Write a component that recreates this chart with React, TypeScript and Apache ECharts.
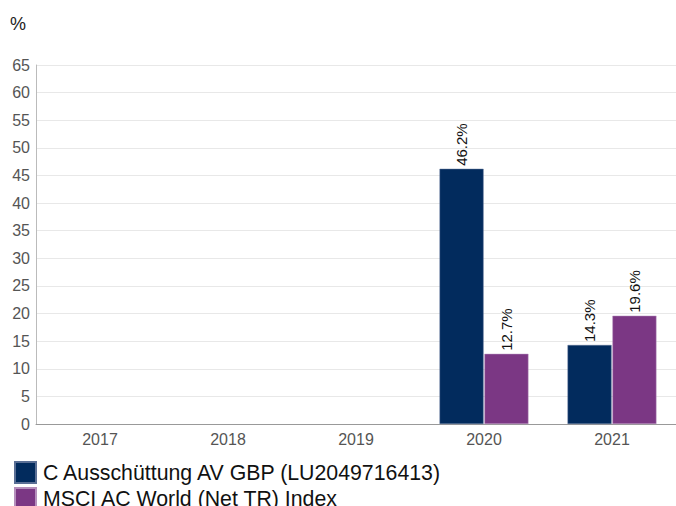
import React, { useEffect, useRef } from "react";
import * as echarts from "echarts";

const categories = ["2017", "2018", "2019", "2020", "2021"];
const fundName = "C Ausschüttung AV GBP (LU2049716413)";
const indexName = "MSCI AC World (Net TR) Index";
const fundValues: (number | null)[] = [null, null, null, 46.2, 14.3];
const indexValues: (number | null)[] = [null, null, null, 12.7, 19.6];

export default function App() {
  const ref = useRef<HTMLDivElement>(null);
  useEffect(() => {
    const chart = echarts.init(ref.current!, null, { renderer: "svg" });
    const font = "Liberation Sans, Arial, sans-serif";
    const label = {
      show: true,
      position: "top" as const,
      rotate: 90,
      align: "left" as const,
      verticalAlign: "middle" as const,
      distance: 3,
      fontSize: 15,
      color: "#111",
      fontFamily: font,
      formatter: (p: any) => p.value.toFixed(1) + "%",
    };
    const legendBase = {
      orient: "horizontal" as const,
      left: 9,
      itemWidth: 21,
      itemHeight: 21,
      icon: "rect",
      textStyle: { fontSize: 21.3, color: "#111", fontFamily: font, padding: [0, 0, 0, 2] },
    };
    chart.setOption({
      animation: false,
      textStyle: { fontFamily: font },
      title: {
        text: "%",
        left: 5,
        top: 10,
        textStyle: { fontSize: 18, fontWeight: "normal", color: "#222", fontFamily: font },
      },
      grid: { left: 36, right: -3, top: 65, bottom: 82, containLabel: false },
      legend: [
        { ...legendBase, top: 456, data: [fundName] },
        { ...legendBase, top: 482, data: [indexName] },
      ],
      xAxis: {
        type: "category",
        data: categories,
        axisLine: { lineStyle: { color: "#999" } },
        axisTick: { show: false },
        axisLabel: { fontSize: 16, color: "#555", margin: 7 },
      },
      yAxis: {
        type: "value",
        min: 0,
        max: 65,
        interval: 5,
        axisLine: { show: true, lineStyle: { color: "#bbb" } },
        axisTick: { show: false },
        axisLabel: { fontSize: 16, color: "#555", margin: 6 },
        splitLine: { lineStyle: { color: "#e8e8e8" } },
      },
      series: [
        {
          name: fundName,
          type: "bar",
          data: fundValues,
          barWidth: 44,
          barGap: "2%",
          itemStyle: { color: "#022b5d", borderColor: "#5a6f95", borderWidth: 0.5 },
          label,
        },
        {
          name: indexName,
          type: "bar",
          data: indexValues,
          barWidth: 44,
          itemStyle: { color: "#7b3784", borderColor: "#b58fbc", borderWidth: 0.5 },
          label,
        },
      ],
    });
    return () => chart.dispose();
  }, []);
  return <div ref={ref} style={{ width: 676, height: 506, position: "absolute", left: 0, top: 0 }} />;
}
